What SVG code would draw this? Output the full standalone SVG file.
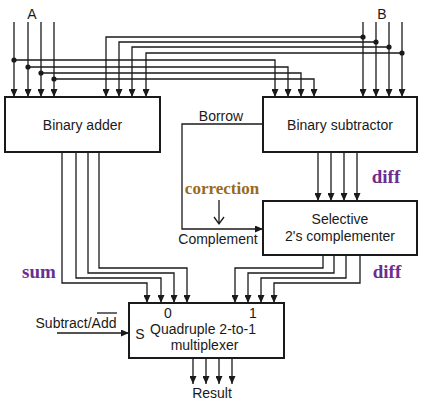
<svg xmlns="http://www.w3.org/2000/svg" width="435" height="400" viewBox="0 0 435 400">
<defs>
<marker id="ah" markerWidth="8" markerHeight="7" refX="8" refY="3.5" orient="auto" markerUnits="userSpaceOnUse">
<path d="M0,0 L8,3.5 L0,7 Z" fill="#1a1a1a"/>
</marker>
<style>
.w{fill:none;stroke:#1a1a1a;stroke-width:1.3}
.a{fill:none;stroke:#1a1a1a;stroke-width:1.3;marker-end:url(#ah)}
.box{fill:#fff;stroke:#1a1a1a;stroke-width:2}
.t{font-family:"Liberation Sans",Arial,sans-serif;font-size:14px;fill:#1a1a1a}
.p{font-family:"Liberation Serif","Times New Roman",serif;font-weight:bold;font-size:19px;fill:#6b2e91}
.c{font-family:"Liberation Serif","Times New Roman",serif;font-weight:bold;font-size:17px;fill:#9a6a1c}
.d{fill:#1a1a1a}
</style>
</defs>
<g id="connectors">
<!-- A inputs -->
<path class="a" d="M14,22 V97"/>
<path class="a" d="M28,22 V97"/>
<path class="a" d="M41,22 V97"/>
<path class="a" d="M54,22 V97"/>
<path class="a" d="M14,60 H275 V97"/>
<path class="a" d="M28,67 H288 V97"/>
<path class="a" d="M41,73 H301 V97"/>
<path class="a" d="M54,79 H314 V97"/>
<circle class="d" cx="14" cy="60" r="2.6"/>
<circle class="d" cx="28" cy="67" r="2.6"/>
<circle class="d" cx="41" cy="73" r="2.6"/>
<circle class="d" cx="54" cy="79" r="2.6"/>
<!-- B inputs -->
<path class="a" d="M363,22 V97"/>
<path class="a" d="M376,22 V97"/>
<path class="a" d="M389,22 V97"/>
<path class="a" d="M402,22 V97"/>
<path class="a" d="M363,37 H106 V97"/>
<path class="a" d="M376,42 H119 V97"/>
<path class="a" d="M389,47 H132 V97"/>
<path class="a" d="M402,53 H146 V97"/>
<circle class="d" cx="363" cy="37" r="2.6"/>
<circle class="d" cx="376" cy="42" r="2.6"/>
<circle class="d" cx="389" cy="47" r="2.6"/>
<circle class="d" cx="402" cy="53" r="2.6"/>
<!-- subtractor to complementer -->
<path class="a" d="M318,152 V201"/>
<path class="a" d="M331,152 V201"/>
<path class="a" d="M344,152 V201"/>
<path class="a" d="M357,152 V201"/>
<!-- borrow -->
<path class="a" d="M263,124 H182 V229 H263"/>
<!-- correction small arrow -->
<path class="w" d="M219,200 V224 M214,217 L219,224 L224,217" stroke-width="1"/>
<!-- adder to mux -->
<path class="a" d="M62,152 V283 H147 V303"/>
<path class="a" d="M76,152 V278 H161 V303"/>
<path class="a" d="M88,152 V273 H174 V303"/>
<path class="a" d="M99,152 V268 H187 V303"/>
<!-- complementer to mux -->
<path class="a" d="M323,255 V268 H235 V303"/>
<path class="a" d="M334,255 V273 H248 V303"/>
<path class="a" d="M346,255 V278 H261 V303"/>
<path class="a" d="M360,255 V283 H274 V303"/>
<!-- select -->
<path class="a" d="M57,333 H129"/>
<!-- result -->
<path class="a" d="M193,358 V384"/>
<path class="a" d="M206,358 V384"/>
<path class="a" d="M219,358 V384"/>
<path class="a" d="M232,358 V384"/>
</g>
<g id="adder">
<rect class="box" x="5" y="97" width="155" height="55"/>
<text class="t" x="82.5" y="130" text-anchor="middle">Binary adder</text>
</g>
<g id="subtractor">
<rect class="box" x="263" y="97" width="154" height="55"/>
<text class="t" x="340" y="130" text-anchor="middle">Binary subtractor</text>
</g>
<g id="complementer">
<rect class="box" x="263" y="201" width="154" height="54"/>
<text class="t" x="340" y="224" text-anchor="middle">Selective</text>
<text class="t" x="340" y="241" text-anchor="middle">2's complementer</text>
</g>
<g id="mux">
<rect class="box" x="129" y="303" width="155" height="55"/>
<text class="t" x="168" y="318" text-anchor="middle">0</text>
<text class="t" x="253" y="318" text-anchor="middle">1</text>
<text class="t" x="140" y="339" text-anchor="middle">S</text>
<text class="t" x="203" y="334" text-anchor="middle">Quadruple 2-to-1</text>
<text class="t" x="204.5" y="350" text-anchor="middle">multiplexer</text>
</g>
<g id="labels">
<text class="t" x="32" y="19" text-anchor="middle">A</text>
<text class="t" x="382" y="19" text-anchor="middle">B</text>
<text class="t" x="221" y="121" text-anchor="middle">Borrow</text>
<text class="c" x="222" y="194" text-anchor="middle">correction</text>
<text class="t" x="218" y="244" text-anchor="middle">Complement</text>
<text class="p" x="386" y="183" text-anchor="middle">diff</text>
<text class="p" x="387" y="278" text-anchor="middle">diff</text>
<text class="p" x="39" y="278" text-anchor="middle">sum</text>
<text class="t" x="76" y="328" text-anchor="middle">Subtract/Add</text>
<path class="w" d="M97,313 H117" stroke-width="1"/>
<text class="t" x="212" y="398" text-anchor="middle">Result</text>
</g>
</svg>
